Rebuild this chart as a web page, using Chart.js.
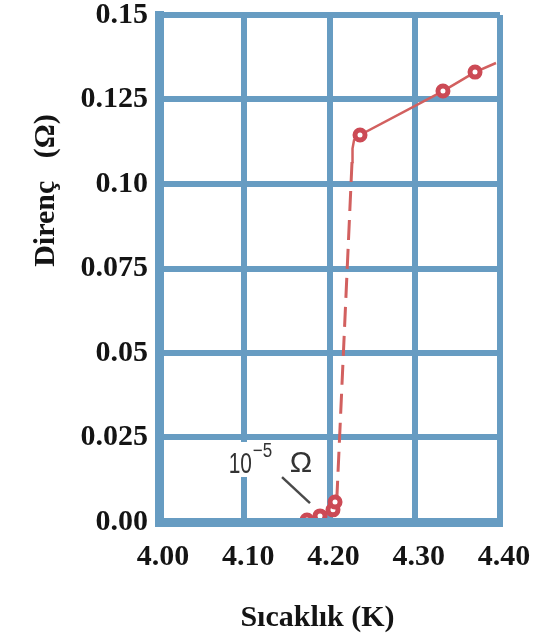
<!DOCTYPE html>
<html>
<head>
<meta charset="utf-8">
<script src="https://cdn.jsdelivr.net/npm/chart.js@4.4.1/dist/chart.umd.min.js"></script>
<style>
  html, body { margin: 0; padding: 0; background: #ffffff; }
  canvas { display: block; }
</style>
</head>
<body>
<canvas id="chart" width="539" height="637"></canvas>
<script>
// Resistance of mercury around its superconducting transition (~4.2 K)

const xTicks = [4.00, 4.10, 4.20, 4.30, 4.40];
const yTicks = [0, 0.025, 0.05, 0.075, 0.10, 0.125, 0.15];
const yTickLabels = ['0.00', '0.025', '0.05', '0.075', '0.10', '0.125', '0.15'];

// Normal-state branch, including the bend at the top of the transition
const normalT = [4.2264, 4.2270, 4.2288, 4.2358, 4.3331, 4.3707, 4.3953];
const normalR = [0.1065, 0.1105, 0.1130, 0.1145, 0.1275, 0.1331, 0.1358];
const normalMarked = [false, false, false, true, true, true, false];

// Steep drop of the resistance (dashed)
const dropT = [4.2264, 4.2088];
const dropR = [0.1065, 0.0080];

// Superconducting side: measured points close to zero
const superT = [4.1650, 4.1736, 4.1889, 4.2041, 4.2065, 4.2088];
const superR = [0.0000, 0.0006, 0.0018, 0.0036, 0.0059, 0.0080];
const superMarked = [false, true, true, true, true, false];

const xTitle = 'Sıcaklık (K)';
const yTitle = 'Direnç   (Ω)';

const gridColor = '#679cc2';
const curveColor = '#d2605f';
const markColor = '#cc4a55';
const textColor = '#141414';
const serif = '"Liberation Serif", "Times New Roman", serif';

const toPoints = (xs, ys) => xs.map((x, i) => ({ x: x, y: ys[i] }));

// Hand-written note "10^-5 Ω" with a pointer to the low points
const noteAnchor = { t: 4.083, r: 0.0145 };
const pointerFrom = { t: 4.1443, r: 0.0133 };
const pointerTo = { t: 4.1771, r: 0.0056 };

const notePlugin = {
  id: 'lowResistanceNote',
  beforeDatasetsDraw(chart) {
    const { ctx, scales } = chart;
    const x = scales.x, y = scales.y;
    const ax = x.getPixelForValue(noteAnchor.t);
    const ay = y.getPixelForValue(noteAnchor.r);
    ctx.save();
    // label background
    ctx.fillStyle = '#ffffff';
    ctx.fillRect(ax - 4, ay - 31, 92, 35);
    ctx.fillStyle = '#333333';
    ctx.textBaseline = 'alphabetic';
    ctx.textAlign = 'left';
    ctx.font = '29px "Liberation Sans", Arial, sans-serif';
    ctx.save(); ctx.translate(ax - 1, ay); ctx.scale(0.72, 1); ctx.fillText('10', 0, 0); ctx.restore();
    ctx.font = '20px "Liberation Sans", Arial, sans-serif';
    ctx.save(); ctx.translate(ax + 23, ay - 16); ctx.scale(0.85, 1); ctx.fillText('\u2212' + '5', 0, 0); ctx.restore();
    ctx.font = '30px "Liberation Sans", Arial, sans-serif';
    ctx.fillText('\u03A9', ax + 60, ay - 1);
    // pointer
    ctx.strokeStyle = '#4a4a4a';
    ctx.lineWidth = 2.5;
    ctx.beginPath();
    ctx.moveTo(x.getPixelForValue(pointerFrom.t), y.getPixelForValue(pointerFrom.r));
    ctx.lineTo(x.getPixelForValue(pointerTo.t), y.getPixelForValue(pointerTo.r));
    ctx.stroke();
    ctx.restore();
  }
};

// Axis titles
const titlePlugin = {
  id: 'axisTitles',
  afterDraw(chart) {
    const { ctx, chartArea } = chart;
    ctx.save();
    ctx.fillStyle = textColor;
    ctx.font = 'bold 30px ' + serif;
    ctx.textAlign = 'center';
    ctx.textBaseline = 'alphabetic';
    ctx.fillText(xTitle, (chartArea.left + chartArea.right) / 2 - 12, 626);
    ctx.translate(54, (chartArea.top + chartArea.bottom) / 2 - 78);
    ctx.rotate(-Math.PI / 2);
    ctx.fillText(yTitle, 0, 0);
    ctx.restore();
  }
};

const tickFont = { family: serif, size: 30, weight: 'bold', lineHeight: 1 };

new Chart(document.getElementById('chart'), {
  type: 'line',
  data: {
    datasets: [
      {
        label: 'normal',
        data: toPoints(normalT, normalR),
        borderColor: curveColor,
        borderWidth: 2.5,
        tension: 0,
        pointRadius: normalMarked.map(m => (m ? 5 : 0)),
        pointBorderWidth: 5,
        pointBorderColor: markColor,
        pointBackgroundColor: '#ffffff'
      },
      {
        label: 'drop',
        data: toPoints(dropT, dropR),
        borderColor: curveColor,
        borderWidth: 3,
        borderDash: [20, 9],
        pointRadius: 0
      },
      {
        label: 'superconducting',
        data: toPoints(superT, superR),
        borderColor: curveColor,
        borderWidth: 4,
        tension: 0,
        pointRadius: superMarked.map(m => (m ? 5 : 0)),
        pointBorderWidth: 5,
        pointBorderColor: markColor,
        pointBackgroundColor: '#ffffff'
      }
    ]
  },
  options: {
    responsive: false,
    animation: false,
    events: [],
    layout: { padding: { top: 15, right: 39, left: 0, bottom: 0 } },
    plugins: { legend: { display: false }, tooltip: { enabled: false } },
    scales: {
      x: {
        type: 'linear',
        min: 4.0,
        max: 4.4,
        afterBuildTicks(scale) { scale.ticks = xTicks.map(v => ({ value: v })); },
        afterFit(scale) {
          scale.height = 115;
          scale.paddingLeft = 0;
          scale.paddingRight = 0;
        },
        grid: { color: gridColor, lineWidth: 6, drawTicks: false },
        border: { display: true, color: gridColor, width: 9, z: 1 },
        ticks: {
          font: tickFont,
          color: textColor,
          padding: 20,
          labelOffset: 4,
          maxRotation: 0,
          autoSkip: false,
          callback: v => Number(v).toFixed(2)
        }
      },
      y: {
        type: 'linear',
        min: 0,
        max: 0.15,
        afterBuildTicks(scale) { scale.ticks = yTicks.map(v => ({ value: v })); },
        afterFit(scale) {
          scale.width = 159;
          scale.paddingTop = 0;
          scale.paddingBottom = 0;
        },
        grid: { color: gridColor, lineWidth: 6, drawTicks: false },
        border: { display: true, color: gridColor, width: 9, z: 1 },
        ticks: {
          font: tickFont,
          color: textColor,
          padding: 11,
          autoSkip: false,
          callback: (v, i) => yTickLabels[i]
        }
      }
    }
  },
  plugins: [notePlugin, titlePlugin]
});
</script>
</body>
</html>
